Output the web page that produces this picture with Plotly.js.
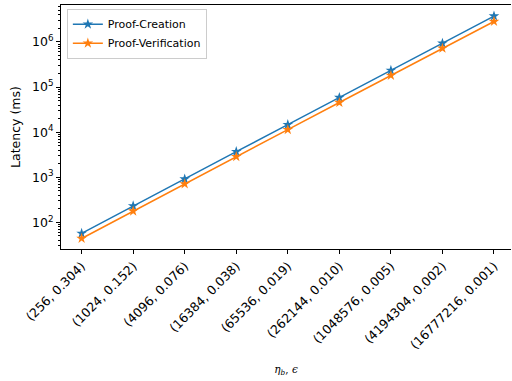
<!DOCTYPE html>
<html>
<head>
<meta charset="utf-8">
<script src="https://cdn.plot.ly/plotly-3.0.1.min.js"></script>
<style>html,body{margin:0;padding:0;background:#fff;}#chart{width:512px;height:381px;}</style>
</head>
<body>
<div id="chart"></div>
<script>
const categories = ["(256, 0.304)", "(1024, 0.152)", "(4096, 0.076)", "(16384, 0.038)", "(65536, 0.019)", "(262144, 0.010)", "(1048576, 0.005)", "(4194304, 0.002)", "(16777216, 0.001)"];
const proofCreation = [57, 232, 915, 3700, 14700, 58500, 234000, 935000, 3750000];
const proofVerification = [44, 178, 715, 2860, 11400, 45500, 181000, 725000, 2850000];
const yTickVals = [100, 1000, 10000, 100000, 1000000];
const yTickText = ["10<sup>2</sup>", "10<sup>3</sup>", "10<sup>4</sup>", "10<sup>5</sup>", "10<sup>6</sup>"];

const xIdx = categories.map((c, i) => i);
const traces = [
  {x: xIdx, y: proofCreation, name: "Proof-Creation", type: "scatter", mode: "lines+markers",
   line: {color: "#1f77b4", width: 1.5}, marker: {symbol: "star", size: 8, color: "#1f77b4"}},
  {x: xIdx, y: proofVerification, name: "Proof-Verification", type: "scatter", mode: "lines+markers",
   line: {color: "#ff7f0e", width: 1.5}, marker: {symbol: "star", size: 8, color: "#ff7f0e"}}
];
const layout = {
  width: 512, height: 381,
  margin: {l: 61, r: 1, t: 5, b: 132},
  paper_bgcolor: "#fff", plot_bgcolor: "#fff",
  font: {family: "DejaVu Sans", size: 12.5, color: "#000"},
  showlegend: true,
  legend: {x: 0.013, y: 0.985, xanchor: "left", yanchor: "top", bgcolor: "rgba(255,255,255,0.8)",
           bordercolor: "#cccccc", borderwidth: 1, font: {size: 11}, tracegroupgap: 0, itemwidth: 30},
  xaxis: {
    type: "linear", range: [-0.4, 8.33], tickmode: "array", tickvals: xIdx, ticktext: categories,
    tickangle: -45, ticks: "outside", ticklen: 4, tickcolor: "#000", showgrid: false, zeroline: false,
    showline: true, linecolor: "#000", linewidth: 1, mirror: true,
    title: {text: "<i>η</i><sub><i>b</i></sub>, <i>ϵ</i>", font: {family: "DejaVu Serif", size: 10.5}, standoff: 14}
  },
  yaxis: {
    type: "log", range: [1.41, 6.82], tickmode: "array", tickvals: yTickVals, ticktext: yTickText,
    ticks: "outside", ticklen: 4, tickcolor: "#000", showgrid: false, zeroline: false,
    showline: true, linecolor: "#000", linewidth: 1, mirror: false,
    minor: {ticks: "outside", ticklen: 2, tickcolor: "#000", dtick: "D1", showgrid: false},
    title: {text: "Latency (ms)", font: {size: 12.5}, standoff: 8}
  }
};
Plotly.newPlot("chart", traces, layout, {displayModeBar: false, staticPlot: true});
</script>
</body>
</html>
